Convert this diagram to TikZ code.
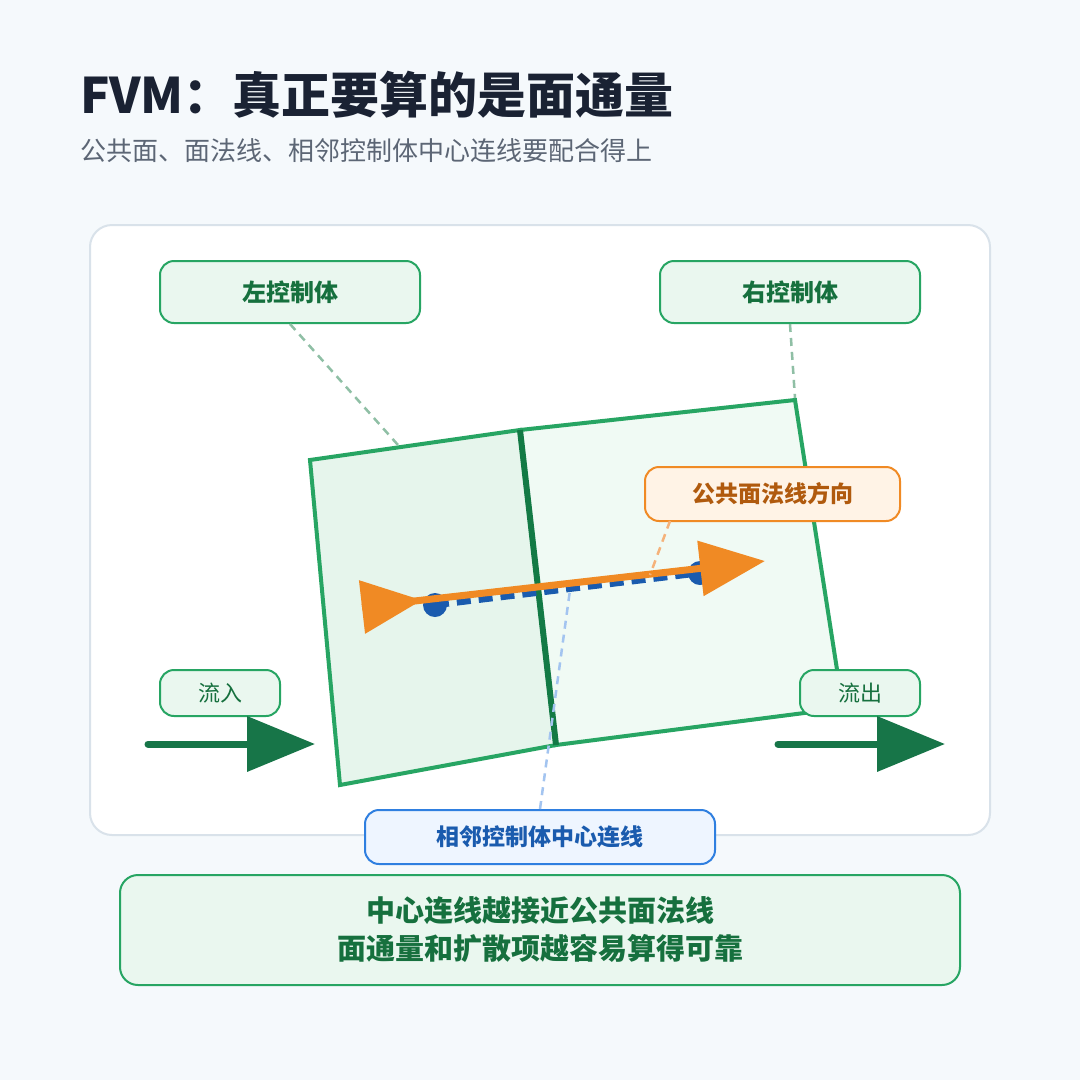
\documentclass[tikz,border=0pt]{standalone}
\usepackage{fontspec}
\setmainfont{Noto Sans CJK SC}
\usetikzlibrary{positioning, arrows.meta, calc}

\definecolor{pagebg}{HTML}{F5F9FC}
\definecolor{panelline}{HTML}{D9E2EA}
\definecolor{cellgreen}{HTML}{27A563}
\definecolor{facegreen}{HTML}{137A45}
\definecolor{leftfill}{HTML}{E6F5EC}
\definecolor{rightfill}{HTML}{F0FAF4}
\definecolor{labelfill}{HTML}{EAF7EF}
\definecolor{labeltext}{HTML}{16703E}
\definecolor{flowgreen}{HTML}{177548}
\definecolor{normalorange}{HTML}{F08A24}
\definecolor{orangefill}{HTML}{FFF3E6}
\definecolor{orangetext}{HTML}{B05A0E}
\definecolor{centerblue}{HTML}{1A5BAE}
\definecolor{bluefill}{HTML}{EEF5FF}
\definecolor{blueline}{HTML}{2F7FE0}
\definecolor{titletext}{HTML}{1A2233}
\definecolor{subtext}{HTML}{5C6675}
\definecolor{leadgreen}{HTML}{8FBFA5}
\definecolor{leadorange}{HTML}{F5B27A}
\definecolor{leadblue}{HTML}{A3C4F0}

\tikzset{
  celltag/.style={draw=cellgreen, line width=2pt, fill=labelfill, rounded corners=14pt,
    text=labeltext, inner sep=0pt},
  bigtag/.style={celltag, minimum width=260pt, minimum height=62pt,
    font=\bfseries\fontsize{24}{28}\selectfont},
  flowtag/.style={celltag, minimum width=120pt, minimum height=46pt,
    font=\fontsize{22}{26}\selectfont},
  leader/.style={line width=2.5pt, dash pattern=on 8pt off 6pt},
  flowarrow/.style={flowgreen, line width=7pt, line cap=round,
    -{Triangle[length=68pt, width=54pt]}},
}

\begin{document}
\begin{tikzpicture}[x=1pt, y=-1pt]

% 背景
\fill[pagebg] (0,0) rectangle (1080,1080);
\useasboundingbox (0,0) rectangle (1080,1080);

% 标题
\node[anchor=base west, inner sep=0pt, text=titletext,
  font=\bfseries\fontsize{49}{55}\selectfont] (title) at (80,113) {FVM：真正要算的是面通量};
\node[anchor=base west, inner sep=0pt, text=subtext,
  font=\fontsize{26}{31}\selectfont] (subtitle) at (80,160) {公共面、面法线、相邻控制体中心连线要配合得上};

% 面板
\draw[panelline, line width=2pt, fill=white, rounded corners=22pt] (90,225) rectangle (990,835);

% 控制体
\coordinate (L1) at (310,460);
\coordinate (F1) at (520,430);
\coordinate (F2) at (556,745);
\coordinate (L4) at (340,785);
\coordinate (R2) at (795,400);
\coordinate (R3) at (843,708);

\draw[cellgreen, line width=4pt, fill=leftfill, line join=miter] (L1) -- (F1) -- (F2) -- (L4) -- cycle;
\draw[cellgreen, line width=4pt, fill=rightfill, line join=miter] (F1) -- (R2) -- (R3) -- (F2) -- cycle;
\draw[facegreen, line width=6pt] (F1) -- (F2);

% 中心
\coordinate (cL) at (435,605);
\coordinate (cR) at (700,573);

% 引线端点
\coordinate (leadL) at (398,445);
\coordinate (leadR) at (795,398);
\coordinate (leadN) at (650,575);
\coordinate (leadC) at (570,590);
\coordinate (nlabfoot) at (670,521);

% 中心连线
\draw[centerblue, line width=6.5pt, dash pattern=on 14pt off 8pt] (cL) -- (cR);
\fill[centerblue] (cL) circle (12pt);
\fill[centerblue] (cR) circle (12pt);

% 法线方向
\coordinate (nS) at (362,607);
\coordinate (nE) at (765,561);
\draw[normalorange, line width=7pt, -{Triangle[length=65pt, width=54pt]}] (nS) -- (nE);
\fill[normalorange] ($(nS)!27pt!90:(nE)$) -- ($(nS)!60pt!(nE)$) -- ($(nS)!27pt!-90:(nE)$) -- cycle;

% 标签
\node[bigtag] (leftcv) at (290,292) {左控制体};
\node[bigtag] (rightcv) at (790,292) {右控制体};
\node[celltag, draw=normalorange, fill=orangefill, text=orangetext,
  minimum width=255pt, minimum height=54pt,
  font=\bfseries\fontsize{23}{27}\selectfont] (normal) at (772.5,494) {公共面法线方向};
\node[flowtag] (inflow) at (220,693) {流入};
\node[flowtag] (outflow) at (860,693) {流出};
\node[celltag, draw=blueline, fill=bluefill, text=centerblue,
  minimum width=350pt, minimum height=54pt,
  font=\bfseries\fontsize{23}{27}\selectfont] (cline) at (540,837) {相邻控制体中心连线};

\draw[leader, leadgreen] (leftcv.south) -- (leadL);
\draw[leader, leadgreen] (rightcv.south) -- (leadR);
\draw[leader, leadorange] (nlabfoot) -- (leadN);
\draw[leader, leadblue] (cline.north) -- (leadC);

% 流入流出
\coordinate (inS) at (148,744);
\coordinate (inE) at (315,744);
\coordinate (outS) at (778,744);
\coordinate (outE) at (945,744);
\draw[flowarrow] (inS) -- (inE);
\draw[flowarrow] (outS) -- (outE);

% 结论
\node[celltag, rounded corners=18pt, minimum width=840pt, minimum height=110pt,
  align=center, font=\bfseries\fontsize{29}{38}\selectfont] (summary) at (540,930)
  {中心连线越接近公共面法线\\面通量和扩散项越容易算得可靠};

\end{tikzpicture}
\end{document}
